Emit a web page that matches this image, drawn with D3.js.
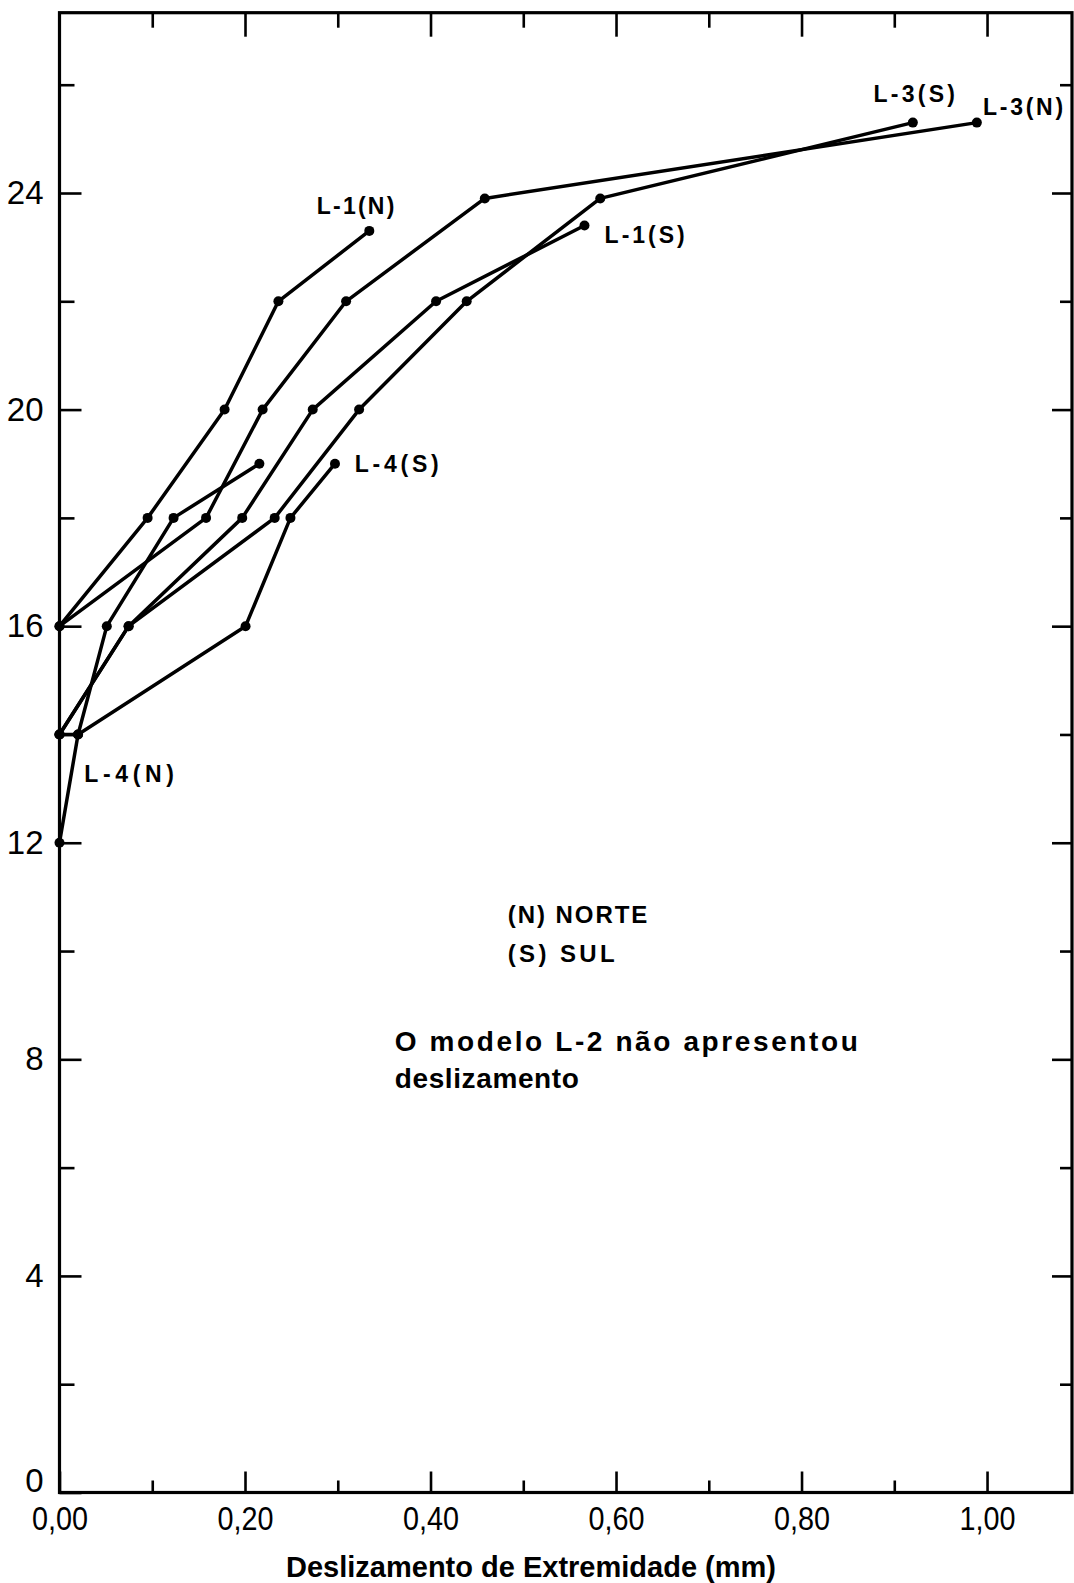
<!DOCTYPE html>
<html><head><meta charset="utf-8">
<script src="https://cdn.jsdelivr.net/npm/d3@7"></script>
<style>
html,body{margin:0;padding:0;background:#fff;}
svg{display:block;}
text{font-family:"Liberation Sans",Arial,sans-serif;fill:#000;}
</style></head><body>
<svg id="chart" width="1074" height="1583"></svg>
<script>
// ---------- data ----------
const xDomain = [0, 1.0916];          // deslizamento (mm)
const yDomain = [0, 27.33];           // carga
const xMajorTicks = [0, 0.2, 0.4, 0.6, 0.8, 1.0];
const xTickLabels = ["0,00", "0,20", "0,40", "0,60", "0,80", "1,00"];
const xMinorTicks = [0.1, 0.3, 0.5, 0.7, 0.9];
const yMajorTicks = [0, 4, 8, 12, 16, 20, 24];
const yTickLabels = ["0", "4", "8", "12", "16", "20", "24"];
const yMinorTicks = [2, 6, 10, 14, 18, 22, 26];
const xTitle = "Deslizamento de Extremidade (mm)";

const seriesNames = ["L-1(N)", "L-1(S)", "L-3(N)", "L-3(S)", "L-4(N)", "L-4(S)"];
const slipL1N = [0, 0.095, 0.178, 0.236, 0.334];
const loadL1N = [16, 18, 20, 22, 23.3];
const slipL1S = [0, 0.0745, 0.197, 0.273, 0.406, 0.566];
const loadL1S = [14, 16, 18, 20, 22, 23.4];
const slipL3N = [0, 0.158, 0.219, 0.309, 0.4585, 0.989];
const loadL3N = [16, 18, 20, 22, 23.9, 25.3];
const slipL3S = [0, 0.0745, 0.232, 0.323, 0.439, 0.583, 0.920];
const loadL3S = [14, 16, 18, 20, 22, 23.9, 25.3];
const slipL4N = [0, 0.02, 0.051, 0.123, 0.2155];
const loadL4N = [12, 14, 16, 18, 19];
const slipL4S = [0, 0.02, 0.2006, 0.249, 0.297];
const loadL4S = [14, 14, 16, 18, 19];

// label anchors in data coordinates (left / baseline)
const labelText = ["L-1(N)", "L-1(S)", "L-3(S)", "L-3(N)", "L-4(S)", "L-4(N)"];
const labelX = [0.2774, 0.5877, 0.8776, 0.9957, 0.3183, 0.0268];
const labelY = [23.62, 23.07, 25.68, 25.44, 18.85, 13.125];
const labelW = [77.5, 80, 81.5, 80, 84, 89.5];

const noteText = ["(N) NORTE", "(S) SUL", "O modelo L-2 não apresentou", "deslizamento"];
const noteX = [0.4832, 0.4832, 0.3615, 0.3615];
const noteY = [10.51, 9.80, 8.15, 7.47];
const noteW = [139.7, 107, 463, 184];
const noteSize = [24, 24, 28, 28];

// ---------- chart ----------
const svg = d3.select("#chart");
const X0 = 59.5, X1 = 1072, Y0 = 1492.5, Y1 = 12.7;
const x = d3.scaleLinear().domain(xDomain).range([X0, X1]);
const y = d3.scaleLinear().domain(yDomain).range([Y0, Y1]);

function styleAxis(g) {
  g.select(".domain").remove();
  g.selectAll(".tick line").attr("stroke", "#000").attr("stroke-width", 2.6);
  g.selectAll(".tick text").attr("font-size", 33).attr("fill", "#000")
    .attr("font-family", "'Liberation Sans', Arial, sans-serif");
}

// bottom
svg.append("g").attr("transform", `translate(0,${Y0})`)
  .call(d3.axisBottom(x).tickValues(xMajorTicks).tickFormat((d, i) => xTickLabels[i]).tickSize(-21).tickPadding(14))
  .call(styleAxis)
  .call(g => g.selectAll(".tick text").attr("textLength", 56).attr("lengthAdjust", "spacingAndGlyphs"));
svg.append("g").attr("transform", `translate(0,${Y0})`)
  .call(d3.axisBottom(x).tickValues(xMinorTicks).tickFormat("").tickSize(-12))
  .call(styleAxis);
// top
svg.append("g").attr("transform", `translate(0,${Y1})`)
  .call(d3.axisTop(x).tickValues(xMajorTicks.slice(1)).tickFormat("").tickSize(-24))
  .call(styleAxis);
svg.append("g").attr("transform", `translate(0,${Y1})`)
  .call(d3.axisTop(x).tickValues(xMinorTicks).tickFormat("").tickSize(-15))
  .call(styleAxis);
// left
svg.append("g").attr("transform", `translate(${X0},0)`)
  .call(d3.axisLeft(y).tickValues(yMajorTicks).tickFormat((d, i) => yTickLabels[i]).tickSize(-22).tickPadding(16))
  .call(styleAxis)
  .call(g => g.selectAll(".tick text").filter(d => d === 0).attr("dy", "-0.03em"));
svg.append("g").attr("transform", `translate(${X0},0)`)
  .call(d3.axisLeft(y).tickValues(yMinorTicks).tickFormat("").tickSize(-15))
  .call(styleAxis);
// right
svg.append("g").attr("transform", `translate(${X1},0)`)
  .call(d3.axisRight(y).tickValues(yMajorTicks.slice(1)).tickFormat("").tickSize(-20))
  .call(styleAxis);
svg.append("g").attr("transform", `translate(${X1},0)`)
  .call(d3.axisRight(y).tickValues(yMinorTicks).tickFormat("").tickSize(-12))
  .call(styleAxis);

// frame
svg.append("rect")
  .attr("x", x(xDomain[0])).attr("y", y(yDomain[1]))
  .attr("width", x(xDomain[1]) - x(xDomain[0]))
  .attr("height", y(yDomain[0]) - y(yDomain[1]))
  .attr("fill", "none").attr("stroke", "#000").attr("stroke-width", 3.2);

// series
const seriesData = [
  [slipL1N, loadL1N], [slipL1S, loadL1S], [slipL3N, loadL3N],
  [slipL3S, loadL3S], [slipL4N, loadL4N], [slipL4S, loadL4S]
].map(([xs, ys], k) => ({ name: seriesNames[k], pts: xs.map((v, i) => [v, ys[i]]) }));

const line = d3.line().x(d => x(d[0])).y(d => y(d[1]));
const sg = svg.append("g");
seriesData.forEach(s => {
  sg.append("path").attr("d", line(s.pts)).attr("fill", "none")
    .attr("stroke", "#000").attr("stroke-width", 3.5)
    .attr("stroke-linejoin", "round").attr("stroke-linecap", "round");
  sg.selectAll(null).data(s.pts).enter().append("circle")
    .attr("cx", d => x(d[0])).attr("cy", d => y(d[1])).attr("r", 5).attr("fill", "#000");
});

// series labels
labelText.forEach((t, i) => {
  svg.append("text").attr("x", x(labelX[i])).attr("y", y(labelY[i]))
    .attr("font-size", 23).attr("font-weight", "bold")
    .attr("textLength", labelW[i]).attr("lengthAdjust", "spacing").text(t);
});

// notes
noteText.forEach((t, i) => {
  svg.append("text").attr("x", x(noteX[i])).attr("y", y(noteY[i]))
    .attr("font-size", noteSize[i]).attr("font-weight", "bold")
    .attr("textLength", noteW[i]).attr("lengthAdjust", "spacing").text(t);
});

// axis title
svg.append("text").attr("x", 531).attr("y", 1577).attr("text-anchor", "middle")
  .attr("font-size", 29).attr("font-weight", "bold")
  .attr("textLength", 490).attr("lengthAdjust", "spacing").text(xTitle);
</script>
</body></html>
